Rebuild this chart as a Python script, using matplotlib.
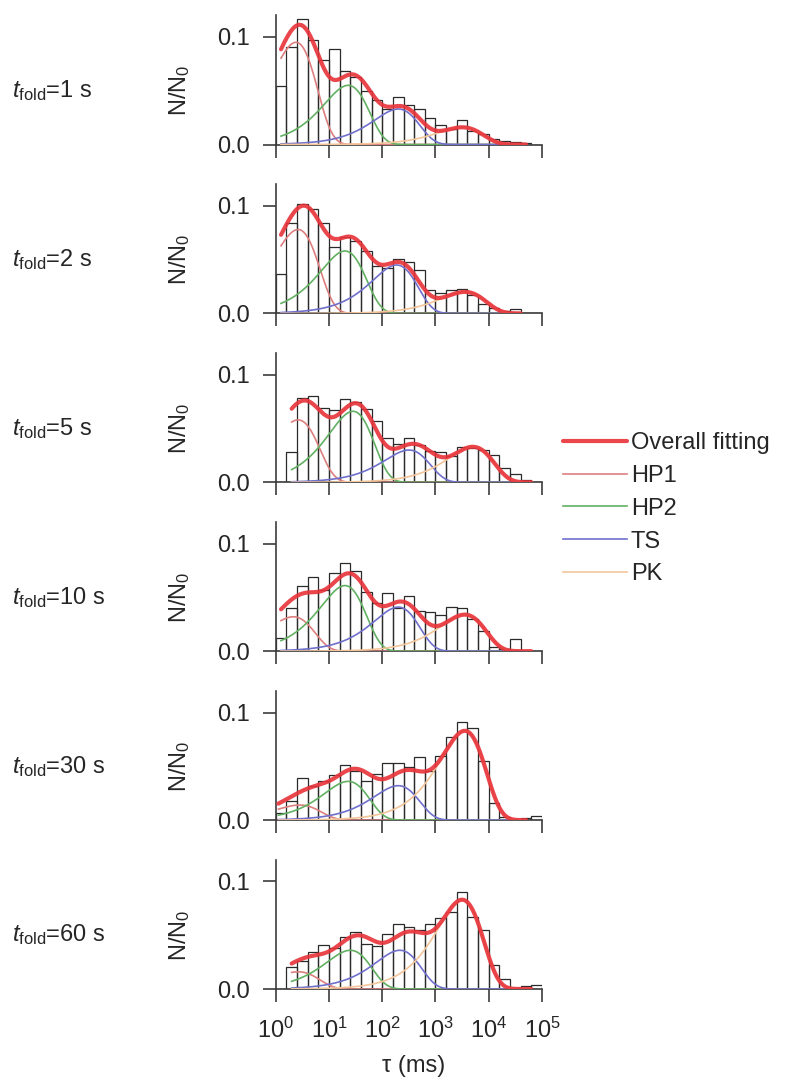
import matplotlib
matplotlib.use('Agg')
import matplotlib.pyplot as plt
import numpy as np

plt.rcParams['font.family'] = ['Liberation Sans', 'DejaVu Sans']
plt.rcParams['mathtext.fontset'] = 'custom'
plt.rcParams['mathtext.rm'] = 'Liberation Sans'
plt.rcParams['mathtext.it'] = 'Liberation Sans:italic'

# ---- data ----
fold_times = ['1', '2', '5', '10', '30', '60']
bin_edges_log = np.linspace(0, 5, 26)          # log10(tau/ms), 0.2 decade bins

hist_1s  = [0.054, 0.091, 0.117, 0.097, 0.079, 0.089, 0.068, 0.063, 0.050, 0.041, 0.033, 0.044, 0.037,
            0.033, 0.025, 0.018, 0.014, 0.023, 0.013, 0.010, 0.005, 0.003, 0.002, 0.001, 0.000]
hist_2s  = [0.037, 0.084, 0.102, 0.097, 0.084, 0.062, 0.071, 0.067, 0.058, 0.044, 0.042, 0.051, 0.048,
            0.040, 0.022, 0.019, 0.022, 0.023, 0.017, 0.009, 0.005, 0.0025, 0.004, 0.000, 0.000]
hist_5s  = [0.000, 0.028, 0.078, 0.080, 0.069, 0.067, 0.077, 0.075, 0.068, 0.057, 0.041, 0.036, 0.041,
            0.035, 0.029, 0.028, 0.024, 0.033, 0.032, 0.030, 0.025, 0.013, 0.008, 0.0025, 0.000]
hist_10s = [0.012, 0.040, 0.061, 0.069, 0.057, 0.073, 0.082, 0.075, 0.055, 0.045, 0.054, 0.040, 0.051,
            0.037, 0.036, 0.034, 0.041, 0.040, 0.030, 0.019, 0.004, 0.002, 0.011, 0.000, 0.000]
hist_30s = [0.007, 0.018, 0.039, 0.032, 0.036, 0.042, 0.051, 0.046, 0.036, 0.043, 0.053, 0.053, 0.049,
            0.059, 0.046, 0.060, 0.077, 0.091, 0.086, 0.055, 0.016, 0.003, 0.001, 0.002, 0.004]
hist_60s = [0.000, 0.020, 0.026, 0.034, 0.041, 0.038, 0.048, 0.053, 0.042, 0.040, 0.051, 0.060, 0.058,
            0.055, 0.060, 0.066, 0.072, 0.090, 0.067, 0.055, 0.022, 0.009, 0.001, 0.0025, 0.004]
histograms = [hist_1s, hist_2s, hist_5s, hist_10s, hist_30s, hist_60s]

# fitted components: peak height and log10(tau) of the peak
hp1_amp = [0.095, 0.078, 0.058, 0.032, 0.014, 0.016]
hp1_pos = [0.38, 0.42, 0.42, 0.33, 0.45, 0.42]
hp2_amp = [0.055, 0.058, 0.066, 0.061, 0.036, 0.036]
hp2_pos = [1.36, 1.30, 1.45, 1.30, 1.36, 1.40]
ts_amp  = [0.033, 0.045, 0.030, 0.041, 0.032, 0.036]
ts_pos  = [2.30, 2.27, 2.50, 2.30, 2.30, 2.33]
pk_amp  = [0.016, 0.020, 0.033, 0.034, 0.083, 0.083]
pk_pos  = [3.50, 3.55, 3.70, 3.55, 3.55, 3.50]
fit_start = [0.1, 0.1, 0.3, 0.1, 0.05, 0.3]
fit_end   = [4.7, 4.6, 4.8, 4.8, 4.7, 4.8]

comp_names  = ['HP1', 'HP2', 'TS', 'PK']
comp_colors = ['#dd7f7f', '#62b062', '#6f6fcc', '#f3c59a']


def component(u, amp, pos):
    r = 10 ** (u - pos)
    return amp * r * np.exp(1 - r)


W, H = 788, 1080
fig = plt.figure(figsize=(W / 100, H / 100), dpi=100)
fig.patch.set_facecolor('white')

x_left, x_right = 275.7, 542.0
zero0, step, ax_h = 144.5, 168.9, 129.1
axis_col = '#3c3c3c'
text_col = '#262626'
fs = 17

edges = 10 ** bin_edges_log
for i in range(6):
    zero_px = zero0 + step * i
    ax = fig.add_axes([x_left / W, 1 - zero_px / H, (x_right - x_left) / W, ax_h / H])
    ax.set_xscale('log')
    ax.set_xlim(1, 1e5)
    ax.set_ylim(0, 0.12)

    ax.bar(edges[:-1], histograms[i], width=np.diff(edges), align='edge',
           fill=False, edgecolor='#2a2a2a', linewidth=0.9, zorder=1)

    u = np.linspace(fit_start[i], fit_end[i], 400)
    comps = [component(u, hp1_amp[i], hp1_pos[i]),
             component(u, hp2_amp[i], hp2_pos[i]),
             component(u, ts_amp[i], ts_pos[i]),
             component(u, pk_amp[i], pk_pos[i])]
    ax.plot(10 ** u, sum(comps), color='#e8333a', lw=3.0, alpha=0.9,
            solid_capstyle='round', zorder=4, label='Overall fitting')
    for c, name, col in zip(comps, comp_names, comp_colors):
        ax.plot(10 ** u, c, color=col, lw=1.2, zorder=3, label=name)

    for s in ['top', 'right']:
        ax.spines[s].set_visible(False)
    for s in ['left', 'bottom']:
        ax.spines[s].set_color(axis_col)
        ax.spines[s].set_linewidth(1.2)
    ax.set_yticks([0, 0.1])
    ax.set_yticklabels(['0.0', '0.1'])
    ax.set_xticks([1, 10, 100, 1e3, 1e4, 1e5])
    ax.xaxis.set_minor_locator(matplotlib.ticker.NullLocator())
    ax.tick_params(direction='out', length=9.5, width=1.2, color=axis_col,
                   labelsize=fs, labelcolor=text_col)
    ax.tick_params(axis='y', pad=9)
    ax.tick_params(axis='x', pad=11)
    if i < 5:
        ax.set_xticklabels([])
    else:
        ax.set_xticklabels([r'10$^{%d}$' % k for k in range(6)])

    y_mid = 1 - (zero_px - 54) / H
    fig.text(12 / W, y_mid, r'$t_{\mathrm{fold}}$=' + fold_times[i] + ' s',
             ha='left', va='center', fontsize=fs, color=text_col)
    fig.text(180 / W, y_mid, r'N/N$_0$', rotation=90, ha='center', va='center',
             fontsize=fs, color=text_col)

    if i == 0:
        handles, labels = ax.get_legend_handles_labels()

fig.text(414 / W, 1 - 1066 / H, 'τ (ms)', ha='center', va='center', fontsize=fs, color=text_col)

fig.legend(handles, labels, loc='upper left', bbox_to_anchor=(563 / W, 1 - 432 / H),
           frameon=False, fontsize=fs, handlelength=2.7, handletextpad=0.17,
           labelspacing=0.46, borderpad=0, borderaxespad=0, labelcolor=text_col)

fig.savefig('out.png', dpi=100, facecolor='white')
